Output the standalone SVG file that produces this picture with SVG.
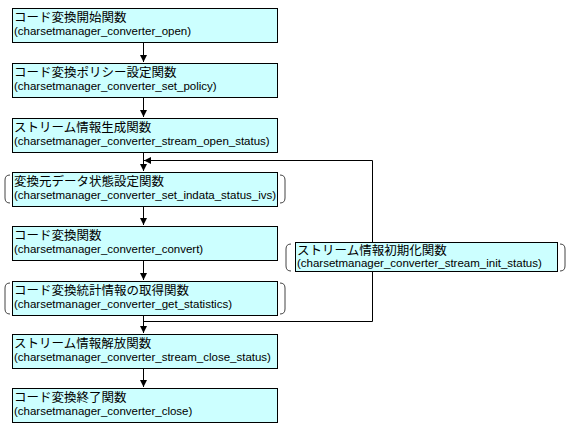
<svg xmlns="http://www.w3.org/2000/svg" width="578" height="432" viewBox="0 0 578 432">
<defs>
<style>
.box{fill:#ccffff;stroke:#000;stroke-width:1}
.jp{font-family:"Noto Sans CJK JP","Liberation Sans",sans-serif;font-size:12.5px;fill:#000}
.en{font-family:"Liberation Sans",Arial,sans-serif;font-size:11.5px;fill:#000}
.ln{fill:none;stroke:#000;stroke-width:1}
.br{fill:none;stroke:#444;stroke-width:1}
</style>
<marker id="ah" markerWidth="8" markerHeight="7" refX="7" refY="3.5" orient="auto" markerUnits="userSpaceOnUse">
<path d="M0,0 L7,3.5 L0,7 Z" fill="#000"/>
</marker>
</defs>
<rect width="578" height="432" fill="#fff"/>
<g id="connectors">
<line class="ln" x1="143.5" y1="42" x2="143.5" y2="62" marker-end="url(#ah)"/>
<line class="ln" x1="143.5" y1="97" x2="143.5" y2="117" marker-end="url(#ah)"/>
<line class="ln" x1="143.5" y1="152" x2="143.5" y2="171" marker-end="url(#ah)"/>
<line class="ln" x1="143.5" y1="206" x2="143.5" y2="225" marker-end="url(#ah)"/>
<line class="ln" x1="143.5" y1="260" x2="143.5" y2="280" marker-end="url(#ah)"/>
<line class="ln" x1="143.5" y1="315" x2="143.5" y2="333" marker-end="url(#ah)"/>
<line class="ln" x1="143.5" y1="368" x2="143.5" y2="387" marker-end="url(#ah)"/>
<polyline class="ln" points="143.5,321.5 372.5,321.5 372.5,160.5 144,160.5" marker-end="url(#ah)"/>
</g>
<g id="n1">
<rect class="box" x="12.5" y="8.5" width="265" height="34"/>
<text class="jp" x="14" y="21.5">コード変換開始関数</text>
<text class="en" x="14" y="35">(charsetmanager_converter_open)</text>
</g>
<g id="n2">
<rect class="box" x="12.5" y="63.5" width="265" height="34"/>
<text class="jp" x="14" y="76.5">コード変換ポリシー設定関数</text>
<text class="en" x="14" y="90">(charsetmanager_converter_set_policy)</text>
</g>
<g id="n3">
<rect class="box" x="12.5" y="118.5" width="265" height="34"/>
<text class="jp" x="14" y="131.5">ストリーム情報生成関数</text>
<text class="en" x="14" y="145">(charsetmanager_converter_stream_open_status)</text>
</g>
<g id="n4">
<path class="br" d="M10,175 Q5,175 5,180 L5,198 Q5,203 10,203"/>
<path class="br" d="M280,175 Q285,175 285,180 L285,198 Q285,203 280,203"/>
<rect class="box" x="12.5" y="172.5" width="265" height="34"/>
<text class="jp" x="14" y="185.5">変換元データ状態設定関数</text>
<text class="en" x="14" y="199">(charsetmanager_converter_set_indata_status_ivs)</text>
</g>
<g id="n5">
<rect class="box" x="12.5" y="226.5" width="265" height="34"/>
<text class="jp" x="14" y="239.5">コード変換関数</text>
<text class="en" x="14" y="253">(charsetmanager_converter_convert)</text>
</g>
<g id="n6">
<path class="br" d="M10,283 Q5,283 5,288 L5,309 Q5,314 10,314"/>
<path class="br" d="M280,283 Q285,283 285,288 L285,309 Q285,314 280,314"/>
<rect class="box" x="12.5" y="281.5" width="265" height="34"/>
<text class="jp" x="14" y="294.5">コード変換統計情報の取得関数</text>
<text class="en" x="14" y="308">(charsetmanager_converter_get_statistics)</text>
</g>
<g id="n7">
<rect class="box" x="12.5" y="334.5" width="265" height="34"/>
<text class="jp" x="14" y="347.5">ストリーム情報解放関数</text>
<text class="en" x="14" y="361">(charsetmanager_converter_stream_close_status)</text>
</g>
<g id="n8">
<rect class="box" x="12.5" y="388.5" width="265" height="34"/>
<text class="jp" x="14" y="401.5">コード変換終了関数</text>
<text class="en" x="14" y="415">(charsetmanager_converter_close)</text>
</g>
<g id="n9">
<path class="br" d="M291,244 Q286,244 286,249 L286,266 Q286,271 291,271"/>
<path class="br" d="M560,244 Q565,244 565,249 L565,266 Q565,271 560,271"/>
<rect class="box" x="295.5" y="242.5" width="262" height="29"/>
<text class="jp" x="297" y="254.5">ストリーム情報初期化関数</text>
<text class="en" x="297" y="267">(charsetmanager_converter_stream_init_status)</text>
</g>
</svg>
